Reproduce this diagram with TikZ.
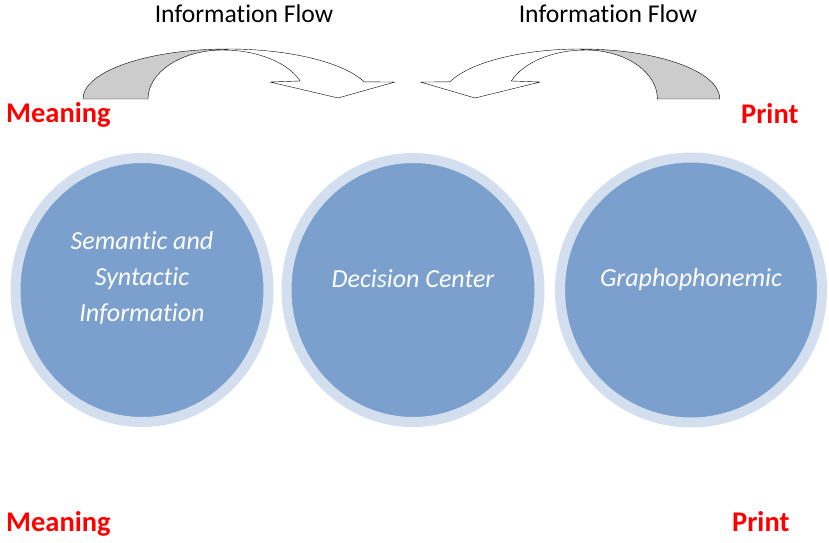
\documentclass[tikz,border=0pt]{standalone}
\usepackage{fontspec}
\setmainfont{Carlito}[Ligatures=NoCommon]
\usepackage{tikz}
\usetikzlibrary{shapes.geometric, calc}

\definecolor{ringblue}{HTML}{D3DFEE}
\definecolor{discblue}{HTML}{7BA0CD}
\definecolor{backgrey}{HTML}{CCCCCC}
\definecolor{labelred}{HTML}{FF0000}

\tikzset{
    disc/.style={ellipse, draw=ringblue, line width=10pt, fill=discblue,
        minimum width=253pt, minimum height=264pt, inner sep=0pt},
    disctext/.style={text=white, font=\fontsize{26}{36}\selectfont\itshape, align=center},
    sidelabel/.style={text=labelred, font=\fontsize{28.5}{34}\selectfont\bfseries, anchor=base west, inner sep=0pt},
    flowlabel/.style={font=\fontsize{25.6}{30}\selectfont, anchor=base, inner sep=0pt}
}

% curved arrow, drawn once and mirrored for the right side
\newcommand{\flowarrow}{%
    \filldraw[fill=backgrey, draw=black, line join=round]
        (83,443) arc[start angle=180, end angle=90, x radius=145, y radius=50]
        -- (223,492) arc[start angle=90, end angle=180, x radius=75, y radius=49]
        -- cycle;
    \filldraw[fill=white, draw=black, line join=round]
        (228,493) arc[start angle=90, end angle=20, x radius=145, y radius=50]
        -- (395,460) -- (338,444) -- (270,460) -- (300.2,461)
        arc[start angle=21.6, end angle=90, x radius=83, y radius=49]
        -- cycle;
}

\begin{document}
\begin{tikzpicture}[x=1pt, y=1pt]

    \useasboundingbox (0,0) rectangle (829,542);

    % Draw the three circles
    \node[disc] (sem) at (142,252) {};
    \node[disc] (dec) at (413,252) {};
    \node[disc, minimum width=262pt, minimum height=265pt] (gra) at (691,252) {};

    % Label the circles
    \node[disctext] (semtext) at ($(sem.center)+(0,12)$) {Semantic and\\Syntactic\\Information};
    \node[disctext, anchor=base] (dectext) at ($(dec.center)+(0,3)$) {Decision Center};
    \node[disctext, anchor=base] (gratext) at ($(gra.center)+(0,4)$) {Graphophonemic};

    % Draw the curved arrows
    \begin{scope}
        \flowarrow
    \end{scope}
    \begin{scope}[xshift=799.5pt, xscale=-0.96]
        \flowarrow
    \end{scope}

    % Label the flow and the ends
    \node[flowlabel] (flowleft) at (244,519) {Information Flow};
    \node[flowlabel] (flowright) at (608,519) {Information Flow};
    \node[sidelabel] (meantop) at (6,419.5) {Meaning};
    \node[sidelabel] (printtop) at (741,418) {Print};
    \node[sidelabel] (meanbot) at (6,11) {Meaning};
    \node[sidelabel] (printbot) at (732,11) {Print};

\end{tikzpicture}
\end{document}
